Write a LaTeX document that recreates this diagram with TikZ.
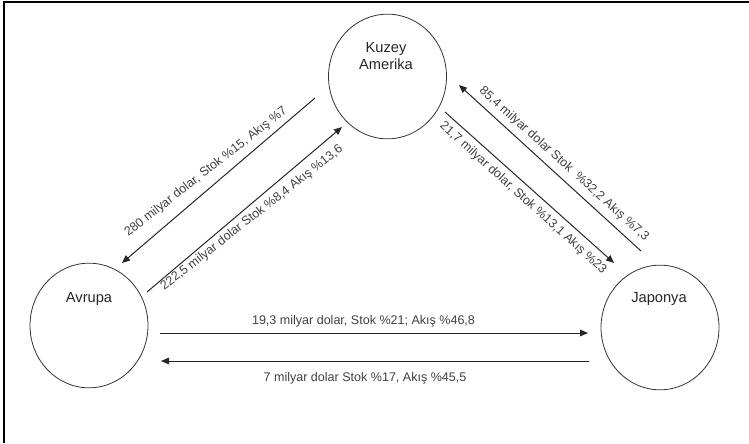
\documentclass[tikz,border=0pt]{standalone}
\usepackage{fontspec}
\setmainfont{Liberation Sans}
\usetikzlibrary{arrows.meta,shapes.geometric}
\begin{document}
\begin{tikzpicture}[x=0.75pt,y=-0.75pt,
  region/.style={draw=black!80, line width=0.6pt, ellipse, minimum width=88.5pt, minimum height=93.5pt, inner sep=0pt},
  regtext/.style={font=\fontsize{11}{12.75}\selectfont, text=black!85, inner sep=0pt, anchor=base},
  flow/.style={draw=black!85, line width=0.75pt, -{Triangle[length=6pt,width=5pt]}},
  flowlab/.style={font=\fontsize{9.4}{11}\selectfont, text=black!75, inner sep=0pt}]
\useasboundingbox (0,0) rectangle (749,443);
\draw[line width=1.5pt] (4,443) -- (4,2) -- (749,2);

\node[region] (ka) at (387.5,76.5) {};
\node[region] (av) at (89,325.5) {};
\node[region] (jp) at (660,327.5) {};

\node[regtext] (kaT1) at (386,52) {Kuzey};
\node[regtext] (kaT2) at (386,69) {Amerika};
\node[regtext] (avT) at (89,302) {Avrupa};
\node[regtext] (jpT) at (659,302) {Japonya};

\coordinate (c1s) at (315,98);
\coordinate (c1e) at (122,263);
\coordinate (c2s) at (147,292);
\coordinate (c2e) at (342,127);
\coordinate (c3s) at (641,251);
\coordinate (c3e) at (459,85);
\coordinate (c4s) at (445,112);
\coordinate (c4e) at (614,263);
\coordinate (c5s) at (160,333);
\coordinate (c5e) at (588,333);
\coordinate (c6s) at (589,361);
\coordinate (c6e) at (161,361);

\draw[flow] (c1s) -- (c1e);
\draw[flow] (c2s) -- (c2e);
\draw[flow] (c3s) -- (c3e);
\draw[flow] (c4s) -- (c4e);
\draw[flow] (c5s) -- (c5e);
\draw[flow] (c6s) -- (c6e);

\node[flowlab, rotate=38] (l1) at (206,172) {280 milyar dolar, Stok \%15, Akış \%7};
\node[flowlab, rotate=38] (l2) at (252,218) {222,5 milyar dolar Stok \%8,4 Akış \%13,6};
\node[flowlab, rotate=-42] (l3) at (564,164) {85,4 milyar dolar Stok\ \ \%32,2 Akış \%7,3};
\node[flowlab, rotate=-42] (l4) at (523,198) {21,7 milyar dolar, Stok \%13,1 Akış \%23};
\node[flowlab, anchor=base] (l5) at (363.5,324) {19,3 milyar dolar, Stok \%21; Akış \%46,8};
\node[flowlab, anchor=base] (l6) at (365,381) {7 milyar dolar Stok \%17, Akış \%45,5};
\end{tikzpicture}
\end{document}
